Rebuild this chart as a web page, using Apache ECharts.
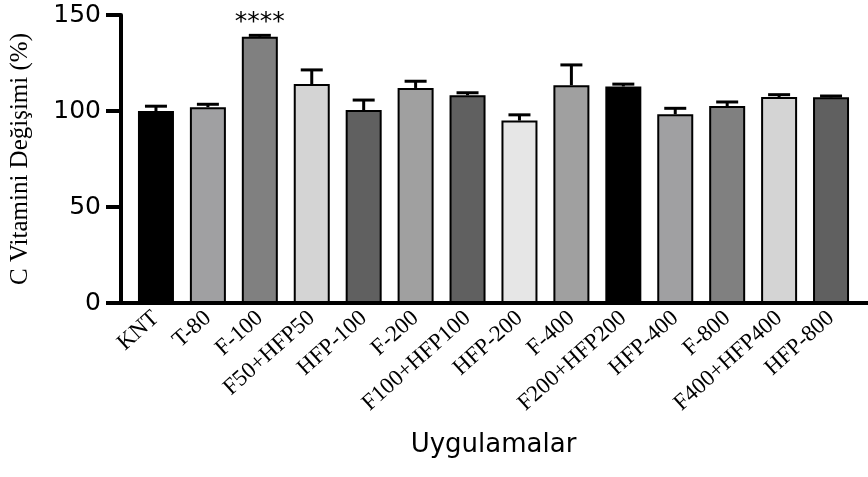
<!DOCTYPE html>
<html>
<head>
<meta charset="utf-8">
<script src="https://cdn.jsdelivr.net/npm/echarts@6/dist/echarts.min.js"></script>
<style>
    html, body { margin: 0; padding: 0; background: #fff; }
    #chart { width: 868px; height: 477px; }
</style>
</head>
<body>
<div id="chart"></div>
<script>
    // data
    const categories = ['KNT', 'T-80', 'F-100', 'F50+HFP50', 'HFP-100', 'F-200', 'F100+HFP100',
        'HFP-200', 'F-400', 'F200+HFP200', 'HFP-400', 'F-800', 'F400+HFP400', 'HFP-800'];
    const means = [100, 102, 138.7, 114, 100.5, 112, 108.2, 95, 113.4, 112.8, 98.3, 102.6, 107.3, 107.1];
    const errors = [2.5, 1.5, 0.7, 7.4, 5.2, 3.5, 1.3, 3, 10.6, 1.2, 3.1, 2.1, 1.2, 0.7];
    const yTicks = [0, 50, 100, 150];
    const signifIndex = 2;
    const signifText = '****';

    // fill per bar
    const barColors = ['#000000', '#a0a0a2', '#808080', '#d4d4d4', '#606060', '#a0a0a0', '#606060',
        '#e6e6e6', '#a0a0a0', '#000000', '#a0a0a2', '#808080', '#d4d4d4', '#606060'];

    const chart = echarts.init(document.getElementById('chart'));

    const barData = means.map((v, i) => {
        let item = { value: v, itemStyle: { color: barColors[i] } };
        if (i === signifIndex) {
            item.label = {
                show: true, position: 'top', distance: 2, formatter: signifText,
                fontFamily: 'DejaVu Sans', fontSize: 25, color: '#000'
            };
        }
        return item;
    });

    const errData = means.map((v, i) => [i, v, v + errors[i]]);

    chart.setOption({
        animation: false,
        backgroundColor: '#fff',
        grid: [
            { left: 126, right: 11, top: 15, bottom: 174 },
            { left: 117, right: 0, top: 15, bottom: 174 }
        ],
        xAxis: [{
            type: 'category',
            gridIndex: 0,
            data: categories,
            name: 'Uygulamalar',
            nameLocation: 'middle',
            nameGap: 129,
            nameTextStyle: { fontFamily: 'DejaVu Sans', fontSize: 26, color: '#000' },
            axisLine: { show: false },
            axisTick: { alignWithLabel: true, length: 12, lineStyle: { color: '#000', width: 4 } },
            axisLabel: {
                rotate: 42, margin: 12, interval: 0,
                fontFamily: 'Liberation Serif', fontSize: 23, color: '#000'
            },
            splitLine: { show: false }
        }, {
            type: 'value',
            gridIndex: 1,
            axisLine: { show: true, onZero: false, lineStyle: { color: '#000', width: 4 } },
            axisTick: { show: false },
            axisLabel: { show: false },
            splitLine: { show: false }
        }],
        yAxis: [{
            type: 'value',
            gridIndex: 0,
            min: 0,
            max: 150,
            interval: 50,
            offset: 9,
            name: 'C Vitamini Değişimi (%)',
            nameLocation: 'middle',
            nameGap: 88,
            nameTextStyle: { fontFamily: 'Liberation Serif', fontSize: 25, color: '#000' },
            axisLine: { show: true, lineStyle: { color: '#000', width: 4 } },
            axisTick: { show: true, length: 15, lineStyle: { color: '#000', width: 4 } },
            axisLabel: {
                margin: 20, fontFamily: 'DejaVu Sans', fontSize: 25, color: '#000',
                formatter: v => yTicks.includes(v) ? String(v) : ''
            },
            splitLine: { show: false }
        }, {
            type: 'value',
            gridIndex: 1,
            show: false
        }],
        series: [{
            type: 'bar',
            xAxisIndex: 0,
            yAxisIndex: 0,
            data: barData,
            barWidth: 36,
            itemStyle: { borderColor: '#000', borderWidth: 2 },
            z: 2
        }, {
            type: 'custom',
            xAxisIndex: 0,
            yAxisIndex: 0,
            data: errData,
            z: 1,
            renderItem: function (params, api) {
                const x = api.value(0);
                const top = api.coord([x, api.value(1)]);
                const hi = api.coord([x, api.value(2)]);
                const half = 11;
                const style = { stroke: '#000', lineWidth: 3 };
                return {
                    type: 'group',
                    children: [
                        { type: 'line', shape: { x1: top[0], y1: top[1], x2: hi[0], y2: hi[1] }, style: style },
                        { type: 'line', shape: { x1: hi[0] - half, y1: hi[1], x2: hi[0] + half, y2: hi[1] }, style: style }
                    ]
                };
            }
        }]
    });
</script>
</body>
</html>
